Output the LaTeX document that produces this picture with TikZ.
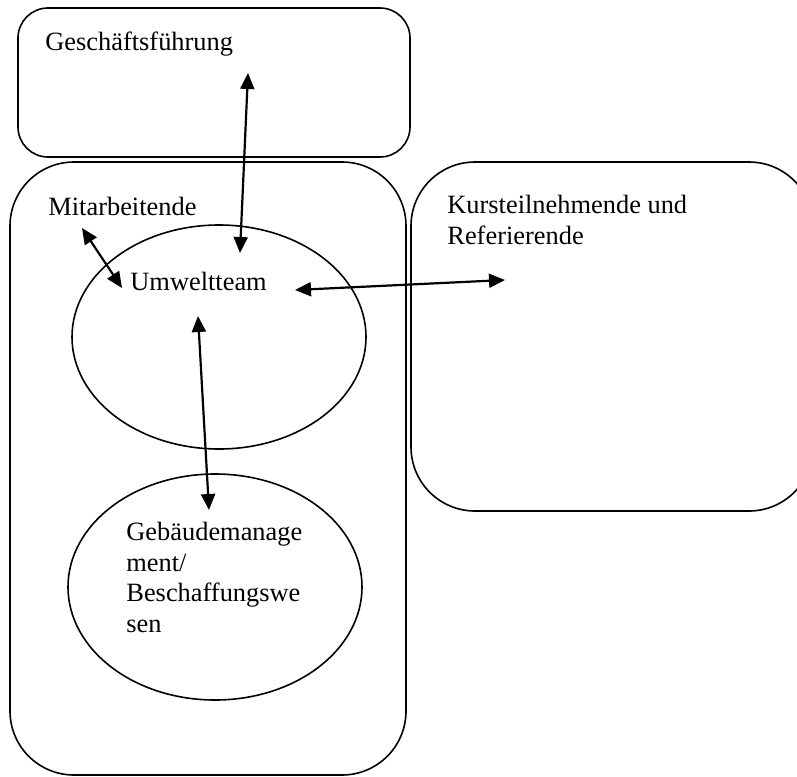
\documentclass[tikz,border=0pt]{standalone}
\usepackage{fontspec}
\setmainfont{Liberation Serif}
\usetikzlibrary{arrows.meta}

\tikzset{
  box/.style={draw, line width=0.8pt},
  label/.style={inner sep=0pt, anchor=base west, font=\fontsize{13.2}{15.25}\selectfont},
  multi/.style={inner sep=0pt, anchor=north west, align=left, font=\fontsize{13.2}{15.25}\selectfont},
  link/.style={line width=1.1pt, {Triangle[length=8pt,width=7pt]}-{Triangle[length=8pt,width=7pt]}}
}

\begin{document}
\begin{tikzpicture}[x=0.5pt, y=-0.5pt]
\useasboundingbox (0,0) rectangle (797,776);

% Bereiche
\draw[box, rounded corners=15pt] (18,8) rectangle (410,157); % Geschaeftsfuehrung
\draw[box, rounded corners=32pt] (10,162) rectangle (406,775); % Mitarbeitende
\draw[box, rounded corners=32pt] (411,162) rectangle (813,511); % Kurs

% Ellipsen
\draw[box] (219,337) ellipse [x radius=147, y radius=112]; % Umweltteam
\draw[box] (215,587) ellipse [x radius=147, y radius=113]; % Gebaeude

% Texte
\node[label] (gf) at (45,50) {Geschäftsführung};
\node[label] (mit) at (48,215) {Mitarbeitende};
\node[label] (uwt) at (130,290) {Umweltteam};
\node[multi] (kurs) at (447,195) {Kursteilnehmende und\\Referierende};
\node[multi] (geb) at (126,522) {Gebäudemanage\\ment/\\Beschaffungswe\\sen};

% Pfeilenden
\coordinate (gfA) at (248,73);
\coordinate (uwtA) at (240,253);
\coordinate (mitA) at (82,228);
\coordinate (uwtB) at (122,288);
\coordinate (uwtC) at (295,290);
\coordinate (kursA) at (505,280);
\coordinate (uwtD) at (198,316);
\coordinate (gebA) at (209,510);

\draw[link] (gfA) -- (uwtA);
\draw[link] (mitA) -- (uwtB);
\draw[link] (uwtC) -- (kursA);
\draw[link] (uwtD) -- (gebA);
\end{tikzpicture}
\end{document}
